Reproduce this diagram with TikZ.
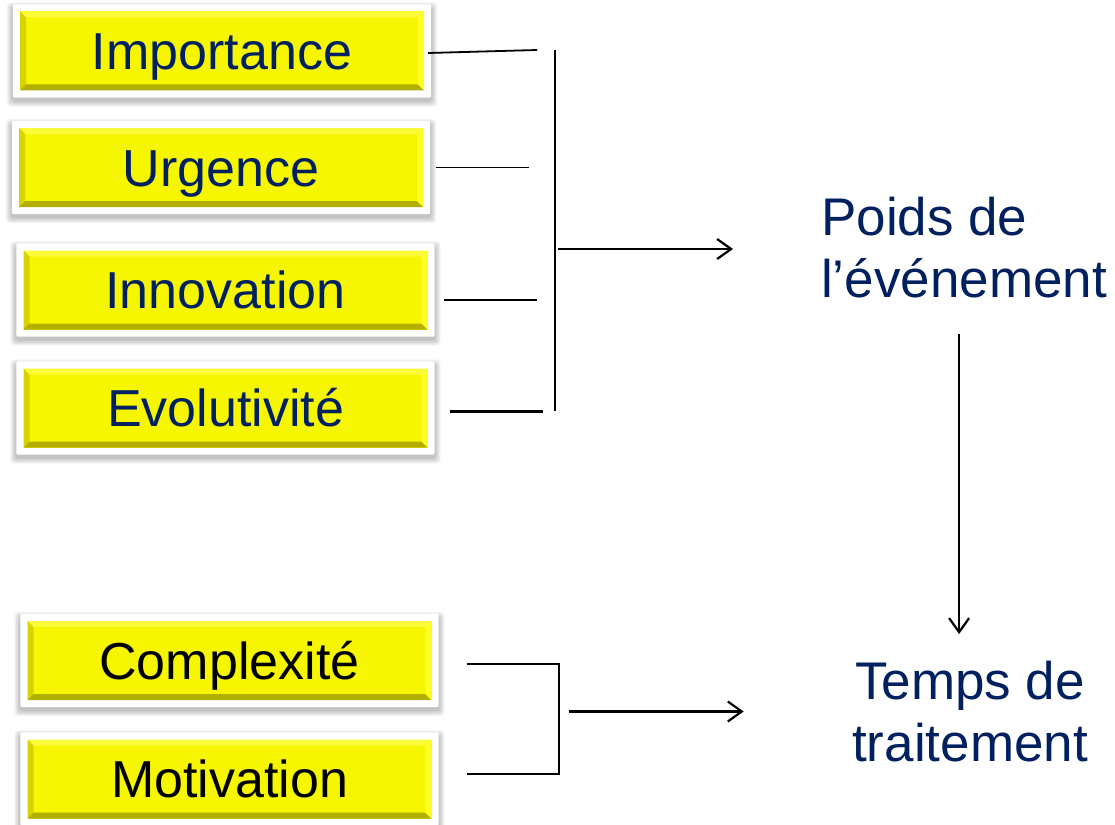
\documentclass[tikz,border=0pt]{standalone}
\usepackage{fontspec}
\setmainfont{Liberation Sans}
\usepackage{xcolor}
\usetikzlibrary{arrows.meta, backgrounds}
\definecolor{boxyellow}{HTML}{F6F600}
\definecolor{bevtop}{HTML}{FBFB3A}
\definecolor{bevleft}{HTML}{D6D300}
\definecolor{bevbottom}{HTML}{B3AF00}
\definecolor{bevright}{HTML}{FFFF28}
\definecolor{navy}{HTML}{002060}

\tikzset{
  critbox/.style={minimum width=404pt, minimum height=79pt, inner sep=0pt,
    fill=boxyellow, text=navy, text height=37pt, text depth=0pt,
    font=\fontsize{52}{62}\selectfont,
    path picture={
      \fill[bevtop] (path picture bounding box.north west) -- (path picture bounding box.north east)
        -- ++(-6,-6) -- ([shift={(6,-6)}]path picture bounding box.north west) -- cycle;
      \fill[bevleft] (path picture bounding box.north west) -- ++(6,-6)
        -- ([shift={(6,6)}]path picture bounding box.south west) -- (path picture bounding box.south west) -- cycle;
      \fill[bevbottom] (path picture bounding box.south west) -- ++(6,6)
        -- ([shift={(-6,6)}]path picture bounding box.south east) -- (path picture bounding box.south east) -- cycle;
      \fill[bevright] (path picture bounding box.south east) -- ++(-6,6)
        -- ([shift={(-6,-6)}]path picture bounding box.north east) -- (path picture bounding box.north east) -- cycle;
    }},
  frame/.style={fill=white, rounded corners=2pt},
  haze/.style={fill=black, opacity=.045, rounded corners=4pt},
  result/.style={text=navy, inner sep=0pt, font=\fontsize{53}{62}\selectfont},
  link/.style={line width=2.4pt},
  arr/.style={line width=2.2pt, -{Straight Barb[length=14pt, width=20pt, line width=2.2pt]}}
}

\begin{document}
\begin{tikzpicture}[x=1pt, y=1pt]
  \useasboundingbox (0,0) rectangle (1115,-824);

  % criteria of the event weight
  \node[critbox] (imp) at (222,-51) {Importance};
  \node[critbox] (urg) at (221,-167.5) {Urgence};
  \node[critbox] (inn) at (225.5,-290) {Innovation};
  \node[critbox] (evo) at (225.5,-408) {Evolutivité};

  % criteria of the processing time
  \node[critbox, text=black] (comp) at (229.5,-660.5) {Complexité};
  \node[critbox, text=black] (mot) at (229.5,-779) {Motivation};

  % white frames with a soft shadow behind the boxes
  \begin{scope}[on background layer]
    \foreach \b in {imp,urg,inn,evo,comp,mot} {
      \foreach \s in {1,...,6}
        \fill[haze] ([shift={(-7-\s,7+\s-4)}]\b.north west) rectangle ([shift={(7+\s,-7-\s-3)}]\b.south east);
      \fill[frame] ([shift={(-7,7)}]\b.north west) rectangle ([shift={(7,-7)}]\b.south east);
    }
  \end{scope}

  \node[result, align=left, anchor=north west] (poids) at (821,-197) {Poids de\\l’événement};
  \node[result, align=center, anchor=north] (temps) at (970,-661) {Temps de\\traitement};

  % upper bracket
  \coordinate (barTop) at (555,-50);
  \coordinate (barBot) at (555,-411);
  \coordinate (hub) at (558,-249);
  \draw[link, line width=1.8pt] ([xshift=4,yshift=-2]imp.east) -- ([xshift=-18]barTop);
  \draw[link, line width=1.8pt] ([xshift=13]urg.east) -- ++(93,0);
  \draw[link] ([xshift=16,yshift=-10]inn.east) -- ++(93,0);
  \draw[link] ([xshift=22,yshift=-3.5]evo.east) -- ++(93,0);
  \draw[line width=1.8pt] (barTop) -- (barBot);
  \draw[arr] (hub) -- ++(175,0);

  % lower bracket
  \draw[link] ([xshift=35,yshift=-3.5]comp.east) -| ([xshift=127,yshift=5]mot.east) -- ([xshift=35,yshift=5]mot.east);
  \draw[arr] ([xshift=137,yshift=-51]comp.east) -- ++(175,0);

  % weight gives time
  \draw[arr, line width=1.8pt] ([xshift=-5,yshift=-36]poids.south) -- ([xshift=-5,yshift=27]poids.south |- temps.north);
\end{tikzpicture}
\end{document}
